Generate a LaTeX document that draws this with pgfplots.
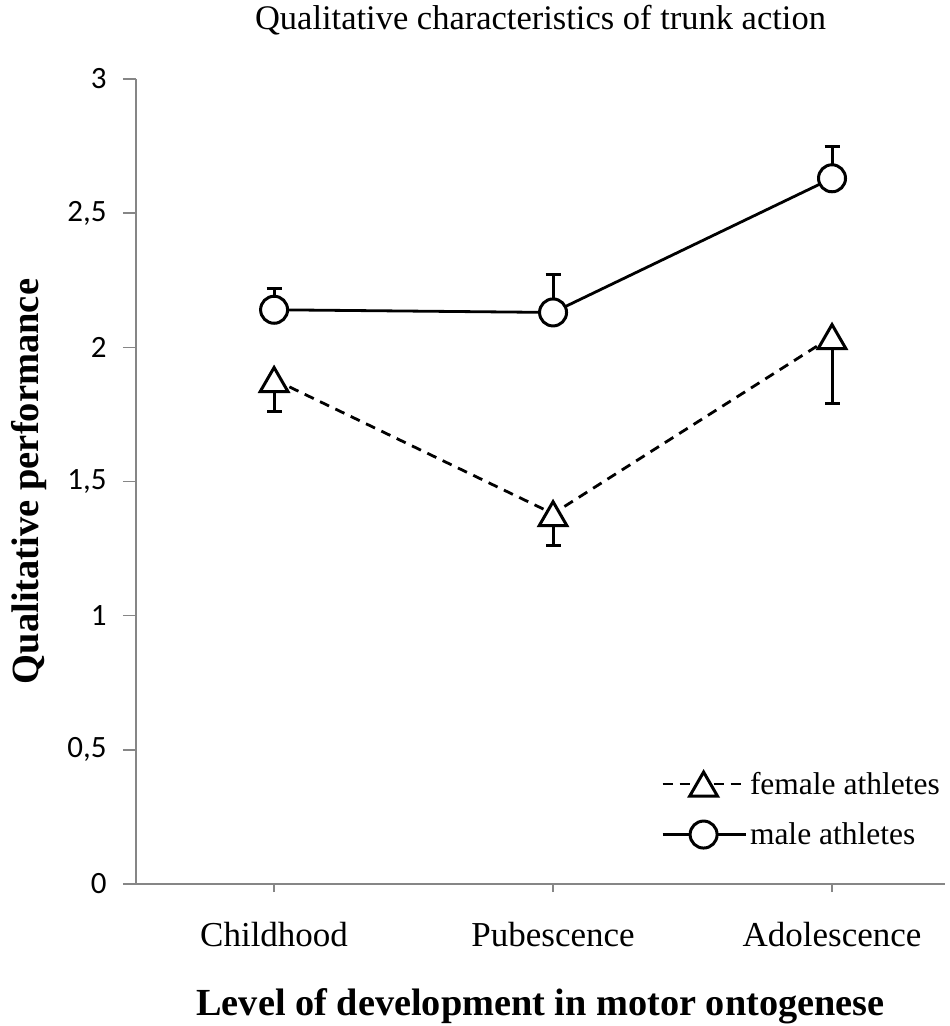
\documentclass[border=0pt]{standalone}
\usepackage{fontspec}
\setmainfont{Liberation Serif}
\newfontfamily\calibri{Carlito}
\usepackage{pgfplots}
\pgfplotsset{compat=1.18}
\definecolor{axisgray}{HTML}{868686}
\begin{document}
\begin{tikzpicture}[x=1pt,y=1pt]
\path[use as bounding box] (-136,-142) rectangle (814,884);
\begin{axis}[
  at={(0,0)}, anchor=south west,
  scale only axis, width=809pt, height=805pt,
  xmin=-0.495, xmax=2.405, ymin=0, ymax=3,
  axis lines=left,
  axis line style={-, draw=axisgray, line width=1.6pt},
  xtick={0,1,2},
  xticklabels={Childhood,Pubescence,Adolescence},
  ytick={0,0.5,1,1.5,2,2.5,3},
  /pgf/number format/use comma,
  /pgf/number format/assume math mode=true,
  tick align=outside,
  major tick length=13pt,
  xtick style={/pgfplots/major tick length=8pt},
  tick style={draw=axisgray, line width=1.6pt},
  yticklabel style={font=\calibri\fontsize{31}{34}\selectfont, anchor=east, xshift=-13pt},
  xticklabel style={font=\fontsize{35}{40}\selectfont, anchor=base, yshift=-49pt},
  legend style={draw=none, fill=none, at={(525pt,115pt)}, anchor=north west,
    font=\fontsize{31.5}{34}\selectfont, inner sep=0pt, row sep=21pt,
    nodes={inner sep=3pt}},
  legend cell align=left,
  legend image code/.code={\draw[mark repeat=2,mark phase=2] plot coordinates {(0pt,0pt)(41pt,0pt)(83pt,0pt)};},
  clip=false,
]
% female athletes
\addplot[black, line width=2.8pt, dash pattern=on 10pt off 7pt,
  mark=triangle*, mark size=16pt,
  mark options={solid, fill=white, draw=black, line width=3pt, yshift=-4pt},
  error bars/.cd, y dir=minus, y explicit,
  error bar style={solid, line width=3pt, black},
  error mark options={solid, rotate=90, line width=3pt, mark size=7.5pt, black}]
  coordinates {(0,1.88) -= (0,0.12) (1,1.38) -= (0,0.12) (2,2.04) -= (0,0.25)};
% male athletes
\addplot[black, line width=2.8pt,
  mark=*, mark size=13.5pt,
  mark options={solid, fill=white, draw=black, line width=3pt},
  error bars/.cd, y dir=plus, y explicit,
  error bar style={solid, line width=3pt, black},
  error mark options={solid, rotate=90, line width=3pt, mark size=7.5pt, black}]
  coordinates {(0,2.14) += (0,0.08) (1,2.13) += (0,0.14) (2,2.63) += (0,0.12)};
\addlegendimage{black, line width=2.8pt, dash pattern=on 8pt off 8pt, mark=triangle*, mark size=12pt, mark options={solid, fill=white, line width=3pt}}
\addlegendentry{female athletes}
\addlegendimage{black, line width=2.8pt, mark=*, mark size=9pt, mark options={solid, fill=white, line width=3pt}}
\addlegendentry{male athletes}
\end{axis}
\node[anchor=base, font=\fontsize{34.5}{40}\selectfont] at (404.5,854) {Qualitative characteristics of trunk action};
\node[anchor=base, font=\bfseries\fontsize{38.3}{44}\selectfont] at (404.5,-131) {Level of development in motor ontogenese};
\node[anchor=base, rotate=90, font=\bfseries\fontsize{38.5}{44}\selectfont] at (-97,402.5) {Qualitative performance};
\end{tikzpicture}
\end{document}
